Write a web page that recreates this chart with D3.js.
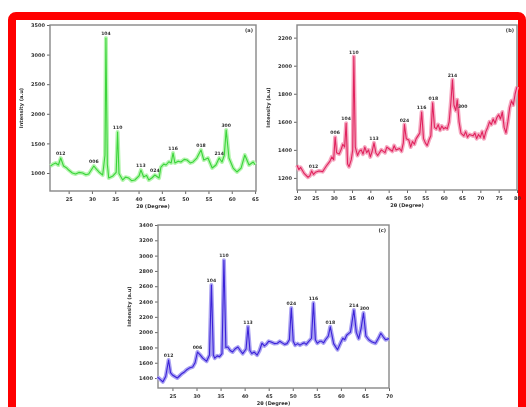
<!DOCTYPE html>
<html>
<head>
<meta charset="utf-8">
<script src="https://cdn.jsdelivr.net/npm/d3@7/dist/d3.min.js"></script>
<style>
  body { margin: 0; background: #fff; }
  svg { display: block; }
  text { font-family: "DejaVu Sans", sans-serif; font-weight: bold; fill: #333; }
</style>
</head>
<body>
<div id="chart"></div>
<script>
// ---- (a) green pattern ----
var thetaA = [21.1, 21.7, 22.2, 22.8, 23.3, 23.9, 24.5, 25, 25.8, 26.5, 27.2, 28, 28.7, 29.3, 30.4, 31, 31.5, 32.3, 32.8, 33.0, 33.3, 33.6, 34.5, 35.2, 35.5, 35.8, 36.6, 37.2, 37.9, 38.5, 39.2, 40.1, 40.5, 41.1, 41.7, 42.2, 42.9, 43.5, 44.4, 44.8, 45.4, 45.9, 46.5, 47, 47.4, 47.8, 48.5, 49.1, 49.8, 50.4, 51.1, 51.7, 52.5, 53.4, 54, 54.9, 55.8, 56.6, 57.3, 57.9, 58.4, 58.8, 59.4, 60.3, 61.1, 62, 62.8, 63.7, 64.6, 65.0];
var intA   = [1118, 1150, 1169, 1135, 1253, 1118, 1090, 1050, 1000, 983, 1010, 1000, 970, 983, 1118, 1060, 1017, 966, 1300, 3280, 1150, 915, 950, 1010, 1693, 990, 882, 930, 915, 870, 882, 950, 1050, 932, 960, 882, 920, 966, 915, 1101, 1150, 1135, 1190, 1169, 1338, 1169, 1200, 1186, 1230, 1220, 1170, 1186, 1253, 1389, 1220, 1253, 1084, 1135, 1253, 1186, 1300, 1727, 1253, 1084, 1017, 1084, 1304, 1135, 1186, 1140];
var xTicksA = [25, 30, 35, 40, 45, 50, 55, 60, 65];
var yTicksA = [1000, 1500, 2000, 2500, 3000, 3500];
var peaksA = [[23.3, "012", 1253], [30.4, "006", 1118], [33.0, "104", 3280], [35.5, "110", 1693], [40.5, "113", 1050], [43.5, "024", 966],
              [47.4, "116", 1338], [53.4, "018", 1389], [57.3, "214", 1253], [58.8, "300", 1727]];

// ---- (b) red pattern ----
var thetaB = [20, 20.5, 21, 22, 23, 23.5, 24, 24.5, 25, 26, 27, 27.5, 28, 29, 29.5, 30, 30.4, 30.8, 31.5, 32, 32.5, 33, 33.4, 33.8, 34.2, 34.8, 35.2, 35.5, 35.9, 36.5, 37, 37.5, 38, 38.5, 39, 39.5, 40, 40.5, 41, 41.5, 42, 43, 44, 44.5, 45, 46, 46.5, 47, 48, 48.5, 49, 49.3, 49.8, 50.5, 51, 51.5, 52, 52.5, 53, 53.5, 54, 54.5, 55, 55.5, 56, 56.5, 57, 57.5, 58, 58.5, 59, 59.5, 60, 60.5, 61, 61.5, 62, 62.4, 62.8, 63.3, 63.7, 64.2, 64.7, 65.5, 66, 66.5, 67, 68, 68.5, 69, 69.5, 70, 70.5, 71, 71.5, 72, 72.5, 73, 73.5, 74, 74.5, 75, 75.5, 76, 76.5, 77, 77.5, 78, 78.5, 79, 79.5, 80];
var intB   = [1290, 1260, 1275, 1230, 1205, 1215, 1250, 1225, 1240, 1250, 1245, 1265, 1285, 1320, 1350, 1330, 1490, 1380, 1370, 1400, 1440, 1420, 1590, 1300, 1280, 1330, 1400, 2065, 1420, 1360, 1390, 1400, 1370, 1420, 1380, 1400, 1350, 1390, 1450, 1380, 1360, 1400, 1380, 1420, 1410, 1390, 1430, 1400, 1410, 1390, 1450, 1580, 1480, 1470, 1420, 1460, 1440, 1480, 1500, 1520, 1670, 1480, 1450, 1430, 1470, 1500, 1735, 1560, 1550, 1580, 1540, 1570, 1550, 1560, 1550, 1600, 1750, 1900, 1720, 1680, 1757, 1600, 1520, 1500, 1530, 1490, 1510, 1500, 1520, 1480, 1510, 1490, 1530, 1480, 1530, 1560, 1600, 1580, 1620, 1590, 1630, 1650, 1620, 1670, 1560, 1520, 1600, 1700, 1750, 1720, 1800, 1850];
var xTicksB = [20, 25, 30, 35, 40, 45, 50, 55, 60, 65, 70, 75, 80];
var yTicksB = [1200, 1400, 1600, 1800, 2000, 2200];
var peaksB = [[24.5, "012", 1250], [30.4, "006", 1490], [33.4, "104", 1590], [35.5, "110", 2065], [41, "113", 1450], [49.3, "024", 1580],
              [54, "116", 1670], [57.2, "018", 1735], [62.4, "214", 1900], [65.2, "300", 1680]];

// ---- (c) blue pattern ----
var thetaC = [21.9, 22.5, 23, 23.6, 24.2, 24.6, 25, 25.5, 26, 26.5, 27, 27.5, 27.9, 28.5, 29.2, 29.7, 30.2, 30.8, 31.3, 32.1, 32.7, 33.1, 33.5, 33.8, 34.3, 34.8, 35.3, 35.7, 36.1, 36.5, 37, 37.5, 38, 38.6, 39.1, 39.6, 40.3, 40.7, 41.1, 41.5, 42, 42.6, 43.1, 43.6, 44.1, 44.5, 45, 45.5, 46.2, 46.8, 47.3, 47.8, 48.3, 48.8, 49.3, 49.7, 50.1, 50.5, 51, 51.5, 52, 52.4, 52.8, 53.2, 53.9, 54.3, 54.7, 55.1, 55.6, 56, 56.4, 56.8, 57.4, 57.8, 58.5, 59.3, 59.8, 60.4, 60.8, 61.2, 61.6, 62, 62.7, 63.2, 63.7, 64.2, 64.7, 65.2, 65.8, 66.5, 67.2, 67.8, 68.3, 68.8, 69.3, 70];
var intC   = [1413, 1380, 1350, 1420, 1635, 1470, 1440, 1420, 1400, 1430, 1460, 1480, 1505, 1530, 1545, 1600, 1740, 1700, 1660, 1620, 1700, 2615, 1700, 1660, 1690, 1680, 1720, 2940, 1800, 1805, 1760, 1740, 1780, 1805, 1760, 1720, 1780, 2070, 1760, 1720, 1740, 1700, 1760, 1855, 1820, 1840, 1880, 1870, 1850, 1855, 1880, 1860, 1840, 1850, 1900, 2315, 1880, 1830, 1850, 1830, 1850, 1860, 1840, 1870, 1920, 2380, 1900, 1855, 1880, 1880, 1860, 1900, 1950, 2070, 1850, 1770, 1840, 1920, 1900, 1960, 1980, 2000, 2290, 2000, 1915, 2050, 2250, 1950, 1900, 1870, 1855, 1920, 1985, 1940, 1900, 1915];
var xTicksC = [25, 30, 35, 40, 45, 50, 55, 60, 65, 70];
var yTicksC = [1400, 1600, 1800, 2000, 2200, 2400, 2600, 2800, 3000, 3200, 3400];
var peaksC = [[24.2, "012", 1635], [30.2, "006", 1740], [33.1, "104", 2615], [35.7, "110", 2940], [40.7, "113", 2070], [49.7, "024", 2315],
              [54.3, "116", 2380], [57.8, "018", 2070], [62.7, "214", 2290], [64.9, "300", 2250]];

var width = 526, height = 407;

var svg = d3.select("#chart").append("svg")
    .attr("width", width)
    .attr("height", height);

var defs = svg.append("defs");
defs.append("filter").attr("id", "soft")
    .append("feGaussianBlur").attr("stdDeviation", 0.5);

var root = svg.append("g").attr("filter", "url(#soft)");

// red frame round the whole figure
root.append("rect")
    .attr("x", 12).attr("y", 16)
    .attr("width", 510).attr("height", 420)
    .attr("rx", 4)
    .attr("fill", "none")
    .attr("stroke", "#ff0000")
    .attr("stroke-width", 8);

function drawPanel(box, thetas, ints, xDomain, yDomain, xTicks, yTicks, peaks, color, halo, tag)
{
    var x = d3.scaleLinear().domain(xDomain).range([box.left, box.right]);
    var y = d3.scaleLinear().domain(yDomain).range([box.bottom, box.top]);
    var g = root.append("g");

    // axes
    var xAxis = d3.axisBottom(x).tickValues(xTicks).tickSize(3).tickPadding(3).tickFormat(d3.format("d"));
    var yAxis = d3.axisLeft(y).tickValues(yTicks).tickSize(3).tickPadding(2).tickFormat(d3.format("d"));
    var gx = g.append("g").attr("transform", "translate(0," + box.bottom + ")").call(xAxis);
    var gy = g.append("g").attr("transform", "translate(" + box.left + ",0)").call(yAxis);
    [gx, gy].forEach(function(a){
        a.select(".domain").remove();
        a.selectAll("line").attr("stroke", "#666").attr("stroke-width", 1);
        a.selectAll("text").attr("font-size", "5px").attr("fill", "#444")
            .attr("font-family", "DejaVu Sans").attr("font-weight", "bold");
    });

    // frame
    g.append("rect")
        .attr("x", box.left).attr("y", box.top)
        .attr("width", box.right - box.left).attr("height", box.bottom - box.top)
        .attr("fill", "none").attr("stroke", "#888").attr("stroke-width", 1.4);

    var pts = thetas.map(function(t, i){ return [t, ints[i]]; });
    var line = d3.line()
        .x(function(d){ return x(d[0]); })
        .y(function(d){ return y(d[1]); });

    g.append("path").datum(pts).attr("d", line)
        .attr("fill", "none").attr("stroke", halo).attr("stroke-width", 4).attr("stroke-linejoin", "round");
    g.append("path").datum(pts).attr("d", line)
        .attr("fill", "none").attr("stroke", color).attr("stroke-width", 1.1).attr("stroke-linejoin", "round");

    // peak labels (hkl)
    g.selectAll(".hkl").data(peaks).enter().append("text")
        .attr("class", "hkl")
        .attr("x", function(d){ return x(d[0]); })
        .attr("y", function(d){ return y(d[2]) - 3; })
        .attr("text-anchor", "middle")
        .attr("font-size", "4.6px")
        .text(function(d){ return d[1]; });

    g.append("text")
        .attr("x", box.right - 3).attr("y", box.top + 7)
        .attr("text-anchor", "end").attr("font-size", "5px")
        .text(tag);

    g.append("text")
        .attr("x", (box.left + box.right) / 2).attr("y", box.bottom + 17)
        .attr("text-anchor", "middle").attr("font-size", "5px")
        .text("2θ (Degree)");

    g.append("text")
        .attr("transform", "translate(" + (box.left - 27) + "," + ((box.top + box.bottom) / 2) + ") rotate(-90)")
        .attr("text-anchor", "middle").attr("font-size", "5px")
        .text("Intensity (a.u)");
}

drawPanel({left: 50, right: 256, top: 25, bottom: 191}, thetaA, intA, [21, 65.2], [696, 3500],
          xTicksA, yTicksA, peaksA, "#3ad43a", "#b6f5b0", "(a)");
drawPanel({left: 297, right: 517, top: 25, bottom: 190}, thetaB, intB, [20, 80], [1114, 2290],
          xTicksB, yTicksB, peaksB, "#e0245e", "#f5a6bf", "(b)");
drawPanel({left: 158, right: 389, top: 225, bottom: 388}, thetaC, intC, [22, 70], [1270, 3400],
          xTicksC, yTicksC, peaksC, "#3b22d8", "#aaa2f2", "(c)");
</script>
</body>
</html>
